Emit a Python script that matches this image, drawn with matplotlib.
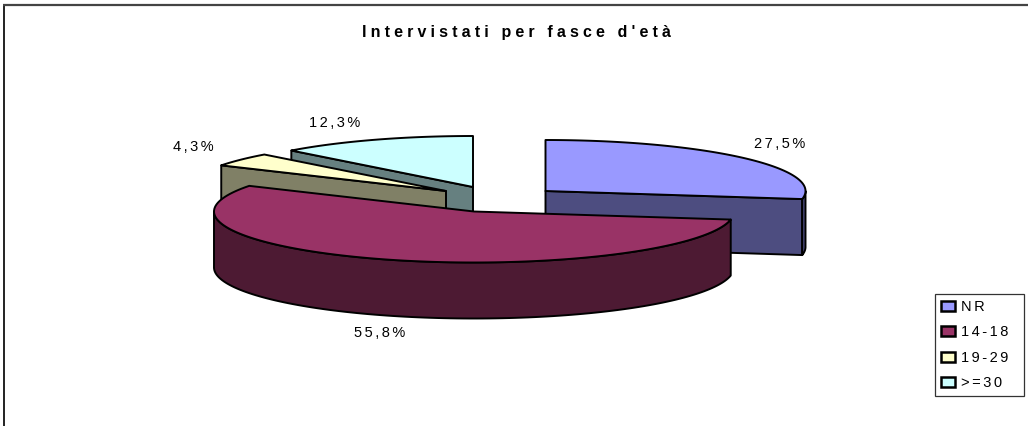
# Intervistati per fascia d'eta - exploded 3D style pie

import numpy as np
import matplotlib
matplotlib.use("Agg")
import matplotlib.pyplot as plt
from matplotlib.patches import Polygon, Patch

plt.rcParams["font.family"] = ["Liberation Sans", "DejaVu Sans"]

# Data
categories = ["NR", "14-18", "19-29", ">=30"]
shares = [27.5, 55.8, 4.3, 12.3]
share_labels = ["27,5%", "55,8%", "4,3%", "12,3%"]
title = "Intervistati per fasce d'età"

# Look of the slices
top_colors = ["#9999FF", "#993366", "#FFFFCC", "#CCFFFF"]
side_colors = ["#4D4D80", "#4D1A33", "#808066", "#668080"]
apex = [(545.5, 191), (474, 211.5), (446, 191), (473, 187)]
label_pos = [(780, 144), (380, 333), (193, 147), (335, 123)]
rx, ry, depth = 260, 51, 56
HAIR = "\u200a"


def spaced(s, n=2):
    return (HAIR * n).join(s)


def arc(center, t0, t1, dy=0):
    t = np.radians(np.linspace(t0, t1, 120))
    return np.column_stack([center[0] + rx * np.sin(t),
                            center[1] + dy - ry * np.cos(t)])


fig = plt.figure(figsize=(10.28, 4.26), dpi=100)
ax = fig.add_axes([0, 0, 1, 1])
ax.set_xlim(0, 1028)
ax.set_ylim(426, 0)
ax.axis("off")

# chart frame: only top and left show
ax.plot([3.5, 3.5], [5, 426], color="#222222", lw=1.4, solid_capstyle="butt")
ax.plot([3, 1028], [5, 5], color="#444444", lw=1.6, solid_capstyle="butt")

# slice angles, clockwise from 12 o'clock
edges = 360 * np.cumsum([0] + shares) / sum(shares)
line = dict(edgecolor="black", lw=1.4, joinstyle="round")

for i in [3, 0, 2, 1]:  # back slices first
    c = apex[i]
    t0, t1 = edges[i], edges[i + 1]

    # cut face that looks towards the viewer
    if i == 0:
        p = arc(c, t1, t1)[0]
        cut = [c, p, (p[0], p[1] + depth), (c[0], c[1] + depth)]
        ax.add_patch(Polygon(cut, facecolor=side_colors[i], **line))
    if i in (2, 3):
        p = arc(c, t0, t0)[0]
        cut = [c, p, (p[0], p[1] + depth), (c[0], c[1] + depth)]
        ax.add_patch(Polygon(cut, facecolor=side_colors[i], **line))

    # outer wall, only the part between 90 and 270 degrees is visible
    w0, w1 = max(t0, 90), min(t1, 270)
    if w1 > w0:
        up = arc(c, w0, w1)
        down = arc(c, w1, w0, dy=depth)
        ax.add_patch(Polygon(np.vstack([up, down]),
                             facecolor=side_colors[i], **line))

    # top face
    top = np.vstack([[c], arc(c, t0, t1)])
    ax.add_patch(Polygon(top, facecolor=top_colors[i], **line))

for lab, (x, y) in zip(share_labels, label_pos):
    ax.text(x, y, spaced(lab), ha="center", va="center", fontsize=10.5, color="black")

ax.text(516, 33, spaced(title, 3), ha="center", va="center",
        fontsize=11.5, fontweight="bold", color="black")

handles = [Patch(facecolor=col, edgecolor="black", lw=1.8) for col in top_colors]
leg = ax.legend(handles, [spaced(c) for c in categories],
                loc="lower left", bbox_to_anchor=(935, 396, 89, 0),
                bbox_transform=ax.transData, mode="expand", fontsize=10.5,
                frameon=True, fancybox=False, edgecolor="#333333", framealpha=1,
                borderpad=0.38, labelspacing=0.79, handlelength=1.0,
                handleheight=0.7, handletextpad=0.4, borderaxespad=0)
leg.get_frame().set_linewidth(0.9)

plt.savefig("out.png", dpi=100)
